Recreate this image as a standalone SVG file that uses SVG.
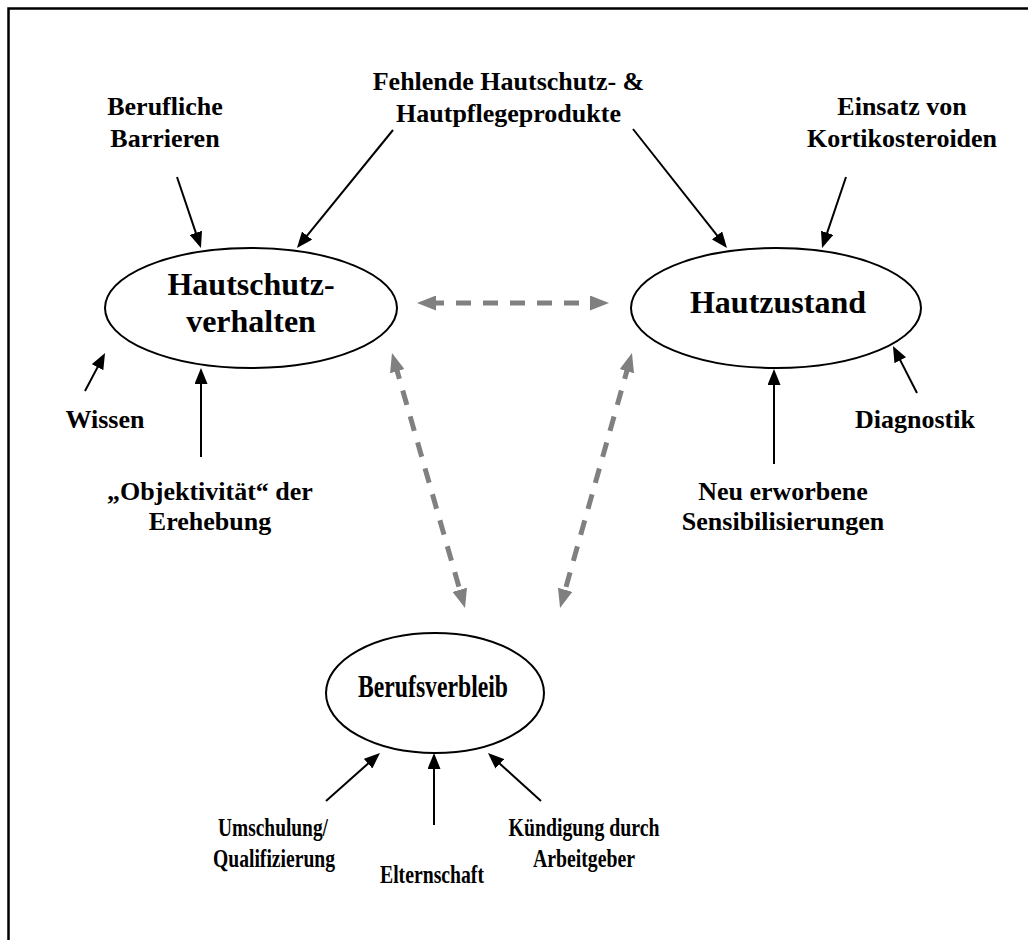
<svg xmlns="http://www.w3.org/2000/svg" width="1028" height="940" viewBox="0 0 1028 940">
  <style>
    text { font-family: "Liberation Serif", "Times New Roman", serif; font-weight: bold; fill: #000; text-anchor: middle; }
    .lbl { font-size: 26px; }
    .node-title { font-size: 32px; }
    .node { fill: #fff; stroke: #000; stroke-width: 2; }
    .frame { stroke: #000; stroke-width: 2.5; fill: none; }
    .arrow { stroke: #000; stroke-width: 2; fill: none; marker-end: url(#head); }
    .link { stroke: #808080; stroke-width: 5; fill: none; stroke-dasharray: 15 12; marker-start: url(#ghead); marker-end: url(#ghead); }
  </style>
  <defs>
    <marker id="head" markerUnits="userSpaceOnUse" markerWidth="16" markerHeight="13" refX="8" refY="6.5" orient="auto">
      <path d="M0,0 L16,6.5 L0,13 Z" fill="#000"/>
    </marker>
    <marker id="ghead" markerUnits="userSpaceOnUse" markerWidth="19" markerHeight="15" refX="7" refY="7.5" orient="auto-start-reverse">
      <path d="M0,0 L19,7.5 L0,15 Z" fill="#808080"/>
    </marker>
  </defs>

  <rect width="1028" height="940" fill="#fff"/>
  <!-- open frame: top and left edges -->
  <path class="frame" d="M8.5,940 L8.5,8.5 L1028,8.5"/>

  <!-- connectors -->
  <g id="connectors">
    <line class="link" x1="429" y1="303" x2="597" y2="303"/>
    <line class="link" x1="395.3" y1="364.5" x2="461.7" y2="596.5"/>
    <line class="link" x1="628.7" y1="364.5" x2="563.3" y2="596.5"/>

    <line class="arrow" x1="177" y1="177" x2="198.4" y2="240.4"/>
    <line class="arrow" x1="393" y1="130" x2="302" y2="241.8"/>
    <line class="arrow" x1="633" y1="129" x2="722" y2="241.7"/>
    <line class="arrow" x1="846" y1="177" x2="824.6" y2="240.4"/>
    <line class="arrow" x1="85" y1="391" x2="101.3" y2="360.1"/>
    <line class="arrow" x1="201" y1="457" x2="201" y2="376"/>
    <line class="arrow" x1="774" y1="464" x2="774" y2="377"/>
    <line class="arrow" x1="917" y1="393" x2="896.6" y2="353.1"/>
    <line class="arrow" x1="326" y1="801" x2="374" y2="758.3"/>
    <line class="arrow" x1="434" y1="825" x2="434" y2="761"/>
    <line class="arrow" x1="541" y1="801" x2="493.9" y2="758.4"/>
  </g>

  <!-- main nodes -->
  <g id="hautschutzverhalten">
    <ellipse class="node" cx="251" cy="308" rx="146" ry="60"/>
    <text class="node-title" x="251" y="295">Hautschutz-</text>
    <text class="node-title" x="251" y="332">verhalten</text>
  </g>
  <g id="hautzustand">
    <ellipse class="node" cx="776" cy="308" rx="145" ry="60"/>
    <text class="node-title" x="778" y="313">Hautzustand</text>
  </g>
  <g id="berufsverbleib">
    <ellipse class="node" cx="435" cy="693" rx="109" ry="60"/>
    <text class="node-title" x="433" y="697" font-size="30" textLength="150" lengthAdjust="spacingAndGlyphs">Berufsverbleib</text>
  </g>

  <!-- influencing factors -->
  <g id="berufliche-barrieren">
    <text class="lbl" x="165" y="115">Berufliche</text>
    <text class="lbl" x="165" y="147">Barrieren</text>
  </g>
  <g id="fehlende-produkte">
    <text class="lbl" x="508.5" y="90">Fehlende Hautschutz- &amp;</text>
    <text class="lbl" x="508.5" y="122">Hautpflegeprodukte</text>
  </g>
  <g id="kortikosteroide">
    <text class="lbl" x="902" y="115">Einsatz von</text>
    <text class="lbl" x="902" y="147">Kortikosteroiden</text>
  </g>
  <g id="wissen">
    <text class="lbl" x="105" y="428">Wissen</text>
  </g>
  <g id="objektivitaet">
    <text class="lbl" x="210" y="500">„Objektivität“ der</text>
    <text class="lbl" x="210" y="530">Erehebung</text>
  </g>
  <g id="diagnostik">
    <text class="lbl" x="915" y="428">Diagnostik</text>
  </g>
  <g id="sensibilisierungen">
    <text class="lbl" x="783" y="500">Neu erworbene</text>
    <text class="lbl" x="783" y="530">Sensibilisierungen</text>
  </g>
  <g id="umschulung">
    <text class="lbl" x="273" y="836" textLength="110" lengthAdjust="spacingAndGlyphs">Umschulung/</text>
    <text class="lbl" x="274" y="867" textLength="122" lengthAdjust="spacingAndGlyphs">Qualifizierung</text>
  </g>
  <g id="elternschaft">
    <text class="lbl" x="432" y="883" textLength="104" lengthAdjust="spacingAndGlyphs">Elternschaft</text>
  </g>
  <g id="kuendigung">
    <text class="lbl" x="584" y="836" textLength="151" lengthAdjust="spacingAndGlyphs">Kündigung durch</text>
    <text class="lbl" x="584" y="867" textLength="102" lengthAdjust="spacingAndGlyphs">Arbeitgeber</text>
  </g>
</svg>
